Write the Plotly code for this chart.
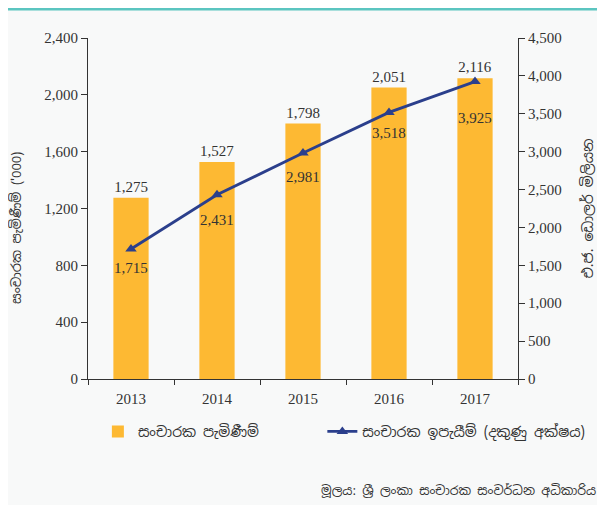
import plotly.graph_objects as go

years = ["2013", "2014", "2015", "2016", "2017"]
arrivals = [1275, 1527, 1798, 2051, 2116]
earnings = [1715, 2431, 2981, 3518, 3925]

bar_name = "සංචාරක පැමිණීම්"
line_name = "සංචාරක ඉපැයීම් (දකුණු අක්ෂය)"
left_title = "සංචාරක පැමිණීම් ('000)"
right_title = "එ.ජ. ඩොලර් මිලියන"
source = "මූලය: ශ්‍රී ලංකා සංචාරක සංවර්ධන අධිකාරිය"

# style: label offsets below the line points (pixels)
line_label_shift = [-19, -25, -24, -21, -36]

serif = "Liberation Serif, Times New Roman, serif"
sinh = "Noto Sans Sinhala, Noto Sans, DejaVu Sans, sans-serif"
bg = "#f8f9f9"
txt = "#333333"

fig = go.Figure()
fig.add_trace(go.Bar(
    x=years, y=arrivals, name=bar_name, legend="legend",
    marker=dict(color="#FDB933", line=dict(width=0)),
    width=0.41,
    text=arrivals, texttemplate="%{y:,}", textposition="outside",
    textfont=dict(family=serif, size=15, color=txt),
    cliponaxis=False,
))
fig.add_trace(go.Scatter(
    x=years, y=earnings, name=line_name, yaxis="y2", legend="legend2",
    mode="lines+markers",
    line=dict(color="#2B3F8C", width=2.8),
    marker=dict(symbol="triangle-up", size=10, color="#2B3F8C"),
))

for i, (v, sh) in enumerate(zip(earnings, line_label_shift)):
    fig.add_annotation(x=i, y=v, xref="x", yref="y2", text=f"{v:,}",
                       showarrow=False, yshift=sh,
                       font=dict(family=serif, size=15, color=txt))

leg_common = dict(orientation="h", y=-0.155, yanchor="middle", xanchor="left",
                  font=dict(family=sinh, size=14, color=txt),
                  bgcolor="rgba(0,0,0,0)")

fig.update_layout(
    width=605, height=505,
    margin=dict(l=80, r=95, t=30, b=134),
    paper_bgcolor=bg, plot_bgcolor=bg,
    showlegend=True,
    legend=dict(x=0.023, **leg_common),
    legend2=dict(x=0.545, **leg_common),
    xaxis=dict(type="category", range=[-0.5, len(years) - 0.5], autorange=False,
               showline=True, linecolor=txt, linewidth=1,
               ticks="outside", tickson="boundaries", ticklen=5, tickcolor=txt,
               ticklabelstandoff=6, tickangle=0,
               tickfont=dict(family=serif, size=15, color=txt),
               showgrid=False, zeroline=False),
    yaxis=dict(range=[0, 2400], dtick=400, tickformat=",", showline=True,
               linecolor=txt, linewidth=1, ticks="outside", ticklen=6,
               tickcolor=txt, showgrid=False, zeroline=False,
               tickfont=dict(family=serif, size=15, color=txt)),
    yaxis2=dict(range=[0, 4500], dtick=500, tickformat=",", overlaying="y", side="right",
                showline=True, linecolor=txt, linewidth=1, ticks="outside",
                ticklen=6, tickcolor=txt, showgrid=False, zeroline=False,
                tickfont=dict(family=serif, size=15, color=txt),
                title=dict(text=right_title, font=dict(family=sinh, size=14, color=txt),
                           standoff=22)),
)

fig.add_annotation(text=left_title, xref="paper", yref="paper", x=-0.165, y=0.443,
                   textangle=-90, showarrow=False, xanchor="center", yanchor="middle",
                   font=dict(family=sinh, size=13, color=txt))

fig.add_shape(type="line", xref="paper", yref="paper", x0=-0.19, x1=1.23,
              y0=1.084, y1=1.084, line=dict(color="#5BC5C0", width=2.5))

fig.add_annotation(text=source, xref="paper", yref="paper", x=1.186, y=-0.326,
                   xanchor="right", yanchor="middle", showarrow=False,
                   font=dict(family=sinh, size=12.5, color=txt))

fig.write_html("out.html")
